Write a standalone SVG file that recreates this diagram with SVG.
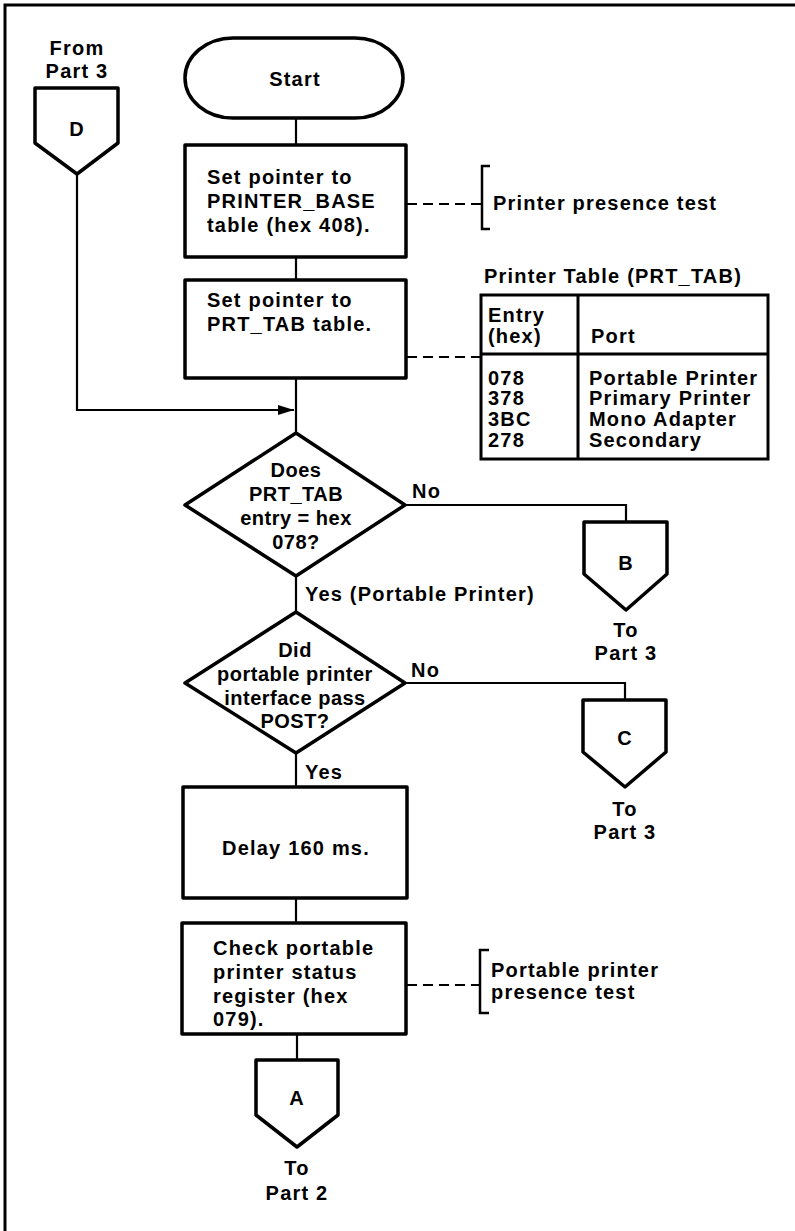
<svg xmlns="http://www.w3.org/2000/svg" width="795" height="1231" viewBox="0 0 795 1231">
<style>
.s{fill:#fff;stroke:#000;stroke-width:3.5;stroke-linejoin:round}
.l{fill:none;stroke:#000;stroke-width:2.2}
.d{fill:none;stroke:#000;stroke-width:2.2;stroke-dasharray:10 6}
.b{fill:none;stroke:#000;stroke-width:2.5}
text{font-family:"Liberation Sans",Arial,sans-serif;font-weight:bold;font-size:20px;letter-spacing:1.2px;fill:#000}
.m{text-anchor:middle}
.n{letter-spacing:0.5px}
</style>
<defs>
<marker id="arr" markerWidth="16" markerHeight="10" refX="16" refY="5" orient="auto" markerUnits="userSpaceOnUse">
<path d="M0,0 L16,5 L0,10 Z" fill="#000"/>
</marker>
</defs>
<rect width="795" height="1231" fill="#fff"/>
<path d="M5,1231 V5 H795" fill="none" stroke="#000" stroke-width="3"/>

<g id="connectors">
<line class="l" x1="296" y1="118" x2="296" y2="145"/>
<line class="l" x1="296" y1="257" x2="296" y2="280"/>
<line class="l" x1="296" y1="378" x2="296" y2="433"/>
<polyline class="l" points="77,174 77,410 294,410" marker-end="url(#arr)"/>
<polyline class="l" points="405,505 626,505 626,522"/>
<line class="l" x1="296" y1="576" x2="296" y2="612"/>
<polyline class="l" points="405,683 625,683 625,700"/>
<line class="l" x1="296" y1="753" x2="296" y2="787"/>
<line class="l" x1="296" y1="898" x2="296" y2="923"/>
<line class="l" x1="297" y1="1034" x2="297" y2="1060"/>
<line class="d" x1="407" y1="204" x2="482" y2="204"/>
<line class="d" x1="407" y1="357" x2="481" y2="357"/>
<line class="d" x1="407" y1="985" x2="480" y2="985"/>
</g>

<g id="start">
<rect class="s" x="185" y="38" width="218" height="80" rx="48" ry="40"/>
<text class="m" x="295" y="86">Start</text>
</g>

<g id="connD">
<text class="m" x="77" y="55">From</text>
<text class="m" x="77" y="78">Part 3</text>
<path class="s" d="M35,88 H118 V143 L77,174 L35,143 Z"/>
<text class="m" x="77" y="136">D</text>
</g>

<g id="box1">
<rect class="s" x="185" y="145" width="221" height="112"/>
<text x="207" y="184">Set pointer to</text>
<text x="207" y="208">PRINTER_BASE</text>
<text x="207" y="232">table (hex 408).</text>
</g>

<g id="note1">
<path class="b" d="M490,166 H482 V229 H490"/>
<text x="493" y="210">Printer presence test</text>
</g>

<g id="box2">
<rect class="s" x="185" y="280" width="221" height="98"/>
<text x="207" y="307">Set pointer to</text>
<text x="207" y="331">PRT_TAB table.</text>
</g>

<g id="table">
<text x="484" y="283">Printer Table (PRT_TAB)</text>
<rect x="481" y="295" width="287" height="164" fill="#fff" stroke="#000" stroke-width="3"/>
<line x1="578" y1="295" x2="578" y2="459" stroke="#000" stroke-width="3"/>
<line x1="481" y1="354" x2="768" y2="354" stroke="#000" stroke-width="3"/>
<text x="488" y="322">Entry</text>
<text x="488" y="343">(hex)</text>
<text x="591" y="343">Port</text>
<text x="488" y="385">078</text>
<text x="488" y="405">378</text>
<text x="488" y="426">3BC</text>
<text x="488" y="447">278</text>
<text x="589" y="385">Portable Printer</text>
<text x="589" y="405">Primary Printer</text>
<text x="589" y="426">Mono Adapter</text>
<text x="589" y="447">Secondary</text>
</g>

<g id="dec1">
<path class="s" d="M296,433 L405,505 L296,576 L185,505 Z"/>
<text class="m n" x="296" y="477">Does</text>
<text class="m n" x="296" y="501">PRT_TAB</text>
<text class="m n" x="296" y="525">entry = hex</text>
<text class="m n" x="296" y="549">078?</text>
<text x="412" y="498">No</text>
<text x="305" y="601">Yes (Portable Printer)</text>
</g>

<g id="connB">
<path class="s" d="M584,522 H667 V574 L626,610 L584,574 Z"/>
<text class="m" x="626" y="570">B</text>
<text class="m" x="626" y="637">To</text>
<text class="m" x="626" y="660">Part 3</text>
</g>

<g id="dec2">
<path class="s" d="M296,612 L405,683 L296,753 L185,683 Z"/>
<text class="m n" x="295" y="657">Did</text>
<text class="m n" x="295" y="681">portable printer</text>
<text class="m n" x="295" y="705">interface pass</text>
<text class="m n" x="295" y="728">POST?</text>
<text x="411" y="677">No</text>
<text x="305" y="779">Yes</text>
</g>

<g id="connC">
<path class="s" d="M583,700 H666 V752 L625,787 L583,752 Z"/>
<text class="m" x="625" y="745">C</text>
<text class="m" x="625" y="816">To</text>
<text class="m" x="625" y="839">Part 3</text>
</g>

<g id="delay">
<rect class="s" x="183" y="787" width="224" height="111"/>
<text class="m" x="296" y="855">Delay 160 ms.</text>
</g>

<g id="check">
<rect class="s" x="182" y="923" width="224" height="111"/>
<text x="213" y="955">Check portable</text>
<text x="213" y="979">printer status</text>
<text x="213" y="1003">register (hex</text>
<text x="213" y="1026">079).</text>
</g>

<g id="note2">
<path class="b" d="M489,950 H480 V1013 H489"/>
<text x="491" y="977">Portable printer</text>
<text x="491" y="999">presence test</text>
</g>

<g id="connA">
<path class="s" d="M256,1060 H338 V1115 L297,1147 L256,1115 Z"/>
<text class="m" x="297" y="1105">A</text>
<text class="m" x="297" y="1175">To</text>
<text class="m" x="297" y="1200">Part 2</text>
</g>
</svg>
